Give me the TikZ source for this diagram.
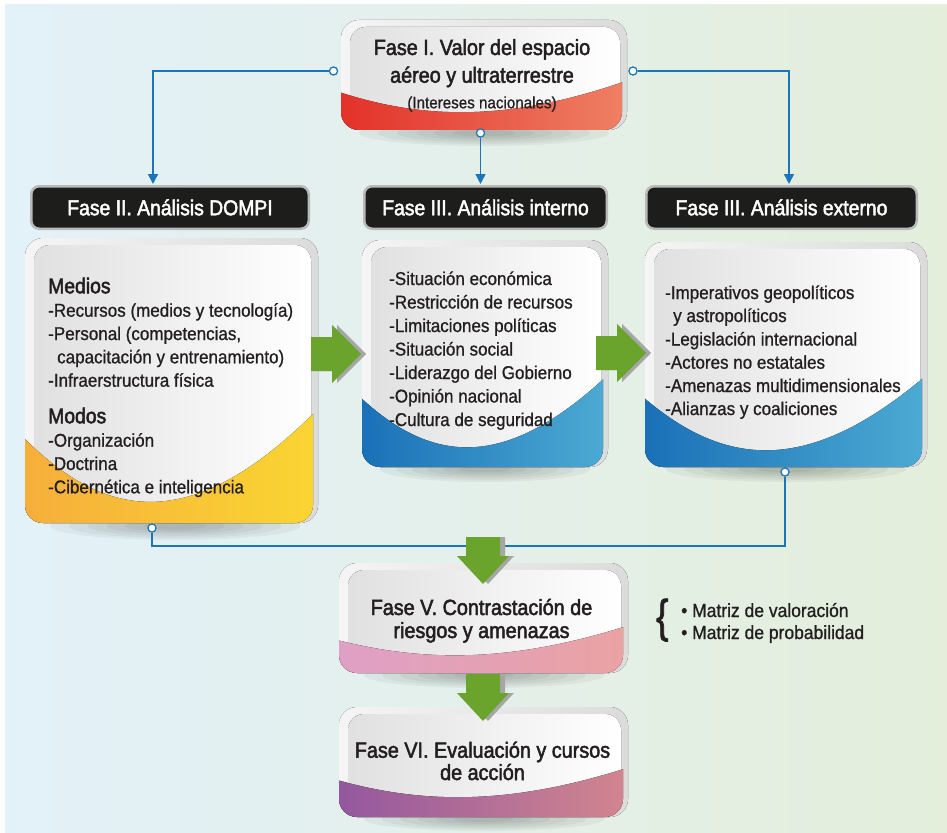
\documentclass[tikz,border=0pt]{standalone}
\usepackage{fontspec}
\setmainfont{Liberation Sans}[FakeStretch=0.92, FakeBold=0.9]
\newfontfamily\heavyfont{Liberation Sans}[FakeStretch=0.9, FakeBold=2.2]
\newfontfamily\bracefont{Liberation Sans}[FakeStretch=0.8, FakeBold=1.5]
\usetikzlibrary{arrows.meta}
\definecolor{bgL}{HTML}{E3F1F9}
\definecolor{bgM}{HTML}{E9F2EF}
\definecolor{bgR}{HTML}{E4EEDB}
\definecolor{txtc}{HTML}{231F20}
\definecolor{conn}{HTML}{1B75BB}
\definecolor{hdrfill}{HTML}{1D1D1B}
\definecolor{agreen}{HTML}{6AA42D}
\definecolor{redL}{HTML}{E3312A}
\definecolor{redR}{HTML}{EF8164}
\definecolor{yelL}{HTML}{F6AE3B}
\definecolor{yelR}{HTML}{FAD632}
\definecolor{bluL}{HTML}{1A70B7}
\definecolor{bluR}{HTML}{4DABD3}
\definecolor{pnkL}{HTML}{DFA0C6}
\definecolor{pnkR}{HTML}{EAA2A2}
\definecolor{purL}{HTML}{93579E}
\definecolor{purR}{HTML}{D3868F}
% #1 x1, #2 y1, #3 x2, #4 y2, #5 unused, #6 yL, #7 control y, #8 yR, #9 colour prefix
\newcommand\panel[9]{%
  \fill[rounded corners=18pt, left color=gray!8, right color=gray!28] (#1,#2) rectangle (#3,#4);
  \fill[rounded corners=16pt, left color=gray!24, right color=white] ({#1+9},{#2+7}) rectangle ({#3-7},{#4-3});
  \begin{scope}
    \clip[rounded corners=18pt] (#1,{#2+7}) rectangle ({#3-5},#4);
    \fill[left color=#9L, right color=#9R] ({#1-2},#6) .. controls ({#1+0.3*(#3-#1)},#7) and ({#1+0.6*(#3-#1)},#7) .. ({#3+2},#8) -- ({#3+2},{#4+2}) -- ({#1-2},{#4+2}) -- cycle;
  \end{scope}}
\newcommand\softshadow[4]{%
  \foreach \k in {0,...,5}
    \fill[black, opacity=0.045] (#1,#2) ellipse [x radius={#3*(1-0.15*\k)}, y radius={#4*(1-0.15*\k)}];}
\newcommand\rarrow[2]{%
  \foreach \s/\c in {5/gray!70, 0/agreen}
    \fill[\c, xshift=\s pt] ({#1-50},{#2-17}) -- ({#1-29},{#2-17}) -- ({#1-29},{#2-29}) -- (#1,#2) -- ({#1-29},{#2+29}) -- ({#1-29},{#2+17}) -- ({#1-50},{#2+17}) -- cycle;}
\newcommand\darrow[2]{%
  \foreach \s/\c in {5/gray!70, 0/agreen}
    \fill[\c, xshift=\s pt] ({#1-17},{#2-47}) -- ({#1+17},{#2-47}) -- ({#1+17},{#2-28}) -- ({#1+26},{#2-28}) -- (#1,#2) -- ({#1-26},{#2-28}) -- ({#1-17},{#2-28}) -- cycle;}
\begin{document}
\begin{tikzpicture}[x=1pt,y=-1pt,
  hdr/.style={fill=hdrfill, draw=gray!55, line width=2.5pt, rounded corners=8pt, text=white,
     font=\heavyfont\fontsize{21.5}{24}\selectfont, text height=15.5pt, text depth=0pt, inner sep=0pt, minimum height=42.5pt},
  item/.style={anchor=base west, inner sep=0pt, text=txtc, font=\fontsize{18.5}{22}\selectfont},
  head/.style={anchor=base west, inner sep=0pt, text=txtc, font=\heavyfont\fontsize{21.5}{24}\selectfont},
  title/.style={anchor=base, inner sep=0pt, text=txtc, font=\heavyfont\fontsize{22}{24}\selectfont},
  conline/.style={draw=conn, line width=1.4pt},
  conarrow/.style={conline, -{Triangle[length=10pt, width=10pt]}},
  dot/.style={circle, draw=conn, fill=white, line width=1.1pt, inner sep=0pt, minimum size=8pt}]
\useasboundingbox (0,0) rectangle (947,832);
\fill[white] (0,0) rectangle (947,832);
\shade[left color=bgL, middle color=bgM, right color=bgR] (5,5) rectangle (947,832);

% shadows
\softshadow{484}{133}{125}{13}
\softshadow{175}{526}{125}{14}
\softshadow{485}{469}{105}{13}
\softshadow{786}{469}{120}{13}
\softshadow{484}{675}{120}{13}
\softshadow{484}{819}{120}{12}

% panels
\panel{341}{20}{627}{130}{}{92}{120.7}{80}{red}
\panel{25}{238}{318}{523}{}{437}{528}{407}{yel}
\panel{362}{240}{608}{467}{}{397}{467.7}{373}{blu}
\panel{645}{242}{927}{467}{}{397}{471.7}{373}{blu}
\panel{339}{563}{628}{673}{}{640}{662.5}{625}{pnk}
\panel{339}{707}{628}{817}{}{780}{804.8}{767}{pur}

% Fase I
\node[title] (f1a) at (482,55) {Fase I. Valor del espacio};
\node[title] (f1b) at (482,82.7) {aéreo y ultraterrestre};
\node[title, font=\fontsize{16.5}{18}\selectfont] (f1c) at (482,108.3) {(Intereses nacionales)};

% headers
\node[hdr, minimum width=277.5pt] (h2) at (170,207.5) {Fase II. Análisis DOMPI};
\node[hdr, minimum width=242.5pt] (h3i) at (485.5,207.5) {Fase III. Análisis interno};
\node[hdr, minimum width=270.5pt] (h3e) at (781.5,207.5) {Fase III. Análisis externo};

% DOMPI
\node[head] (m1) at (48,293.3) {Medios};
\node[item] (m2) at (48,316.7) {-Recursos (medios y tecnología)};
\node[item] (m3) at (48,340) {-Personal (competencias,};
\node[item] (m4) at (57,363.3) {capacitación y entrenamiento)};
\node[item] (m5) at (48,386.7) {-Infraerstructura física};
\node[head] (m6) at (48,423.3) {Modos};
\node[item] (m7) at (48,446.7) {-Organización};
\node[item] (m8) at (48,470) {-Doctrina};
\node[item] (m9) at (48,493.3) {-Cibernética e inteligencia};

% interno
\node[item] (i1) at (389,285) {-Situación económica};
\node[item] (i2) at (389,308.5) {-Restricción de recursos};
\node[item] (i3) at (389,332) {-Limitaciones políticas};
\node[item] (i4) at (389,355.5) {-Situación social};
\node[item] (i5) at (389,379) {-Liderazgo del Gobierno};
\node[item] (i6) at (389,402.5) {-Opinión nacional};
\node[item] (i7) at (389,426) {-Cultura de seguridad};

% externo
\node[item] (e1) at (665,299) {-Imperativos geopolíticos};
\node[item] (e2) at (673,322) {y astropolíticos};
\node[item] (e3) at (665,345.5) {-Legislación internacional};
\node[item] (e4) at (665,368.7) {-Actores no estatales};
\node[item] (e5) at (665,392) {-Amenazas multidimensionales};
\node[item] (e6) at (665,415) {-Alianzas y coaliciones};

% Fase V and VI
\node[title] (f5a) at (481.5,615) {Fase V. Contrastación de};
\node[title] (f5b) at (481.5,638) {riesgos y amenazas};
\node[title] (f6a) at (482.5,757.7) {Fase VI. Evaluación y cursos};
\node[title] (f6b) at (482.5,780) {de acción};

% matrices
\node[anchor=base west, inner sep=0pt, text=txtc, font=\bracefont\fontsize{46}{46}\selectfont] (br) at (656,632) {\{};
\node[item, font=\fontsize{19}{22}\selectfont] (b1) at (681,617) {• Matriz de valoración};
\node[item, font=\fontsize{19}{22}\selectfont] (b2) at (681,639) {• Matriz de probabilidad};

% connectors
\node[dot] (dl) at (333.5,71) {};
\node[dot] (dr) at (633,71) {};
\node[dot] (db) at (480.5,133) {};
\node[dot] (dd) at (152,528) {};
\node[dot] (de) at (785,472) {};
\coordinate (a2) at (153,184);
\coordinate (a3i) at (480.5,184);
\coordinate (a3e) at (789,184);
\coordinate (j1) at (152,546);
\draw[conarrow] (dl) -| (a2);
\draw[conarrow] (dr) -| (a3e);
\draw[conarrow] (db) -- (a3i);
\draw[conline] (dd) -- (j1) -| (de);
\node[dot] at (dl) {};
\node[dot] at (dr) {};
\node[dot] at (db) {};
\node[dot] at (dd) {};
\node[dot] at (de) {};

% green arrows
\rarrow{361}{354}
\rarrow{646}{353}
\darrow{483}{584}
\darrow{483}{721}
\end{tikzpicture}
\end{document}
